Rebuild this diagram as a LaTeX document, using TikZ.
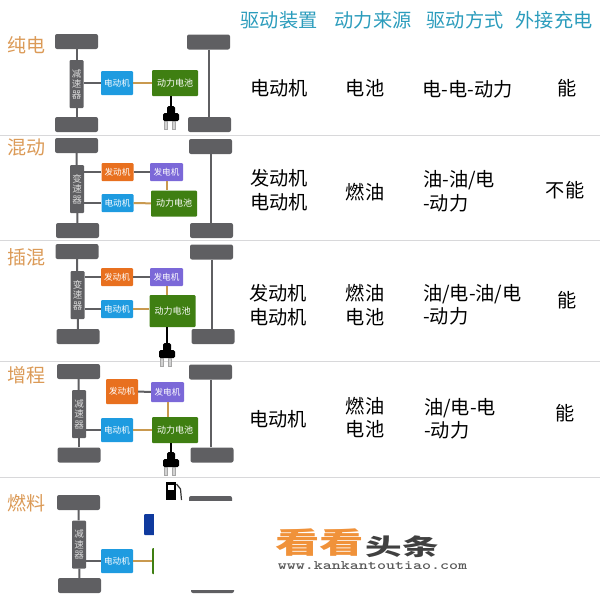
\documentclass[tikz,border=0pt]{standalone}
\usepackage{fontspec}
\setmainfont{Noto Sans CJK SC}
\setsansfont{Noto Sans CJK SC}
\definecolor{wheelgray}{HTML}{5F5F62}
\definecolor{motorblue}{HTML}{1E9BE0}
\definecolor{enginered}{HTML}{E8701F}
\definecolor{genpurple}{HTML}{7B68D8}
\definecolor{batgreen}{HTML}{3F7F12}
\definecolor{cellblue}{HTML}{0F3A9E}
\definecolor{linktan}{HTML}{C9994F}
\definecolor{headteal}{HTML}{2B9CBC}
\definecolor{nameorange}{HTML}{DB9A57}
\definecolor{rulegray}{HTML}{D8D8DA}
\definecolor{markorange}{HTML}{F0923A}
\tikzset{
wheel/.style={fill=wheelgray,rounded corners=2pt,minimum width=43pt,minimum height=15pt,inner sep=0pt},
gearbox/.style={fill=wheelgray,rounded corners=1pt,minimum width=14pt,minimum height=48pt,inner sep=0pt,text=white!85!black,font=\fontsize{9.5}{10.5}\selectfont,align=center},
unit/.style={rounded corners=1pt,inner sep=0pt,text=white,font=\fontsize{8.6}{10}\selectfont},
motor/.style={unit,fill=motorblue,minimum width=32pt,minimum height=24pt},
engine/.style={unit,fill=enginered,minimum width=32pt,minimum height=18pt},
generator/.style={unit,fill=genpurple,minimum width=33pt,minimum height=18pt},
battery/.style={unit,fill=batgreen,minimum width=46pt,minimum height=26pt,font=\fontsize{9}{10}\selectfont},
axle/.style={wheelgray,line width=2pt},
tan link/.style={linktan,line width=2pt},
cord/.style={black,line width=2pt},
cell/.style={font=\fontsize{19.2}{23.5}\selectfont,align=center,inner sep=0pt},
textcell/.style={cell,align=left,anchor=west},
head/.style={font=\fontsize{19.2}{22}\selectfont,text=headteal,inner sep=0pt},
rowname/.style={font=\fontsize{19}{22}\selectfont,text=nameorange,inner sep=0pt},
plug/.pic={
  \node[fill=black,rounded corners=1.5pt,minimum width=8pt,minimum height=8pt,inner sep=0pt] (head) at (0,4) {};
  \fill[black,rounded corners=1.5pt] (-8,7) rectangle (8,15);
  \fill[gray!35,draw=gray!70,line width=.4pt] (-6.5,15) rectangle (-4,23);
  \fill[gray!35,draw=gray!70,line width=.4pt] (1.5,15) rectangle (4,23);
}
}
\begin{document}
\begin{tikzpicture}[x=1pt,y=-1pt]
\useasboundingbox (0,0) rectangle (600,600);
%headers
  \node[head] (h1) at (279,20.5) {驱动装置};
  \node[head] (h2) at (373,20.5) {动力来源};
  \node[head] (h3) at (465,20.5) {驱动方式};
  \node[head] (h4) at (554,20.5) {外接充电};
%row rules
  \foreach \y in {135,240.5,361,477}
    \draw[rulegray,line width=1pt] (0,\y) -- (600,\y);
%1
  \node[rowname] (n1) at (27,45) {纯电};
  \node[wheel] (fl1) at (76.5,41.5) {};
  \node[wheel] (bl1) at (76.5,124.5) {};
  \node[wheel] (fr1) at (208.5,42) {};
  \node[wheel] (br1) at (209.5,124.5) {};
  \node[gearbox] (g1) at (76.5,84) {减\\速\\器};
  \node[motor] (m1) at (117,83) {电动机};
  \node[battery] (b1) at (175,83) {动力电池};
  \pic (p1) at (171,106) {plug};
  \draw[axle] (fl1) -- (g1);
  \draw[axle] (bl1) -- (g1);
  \draw[axle] (fr1) -- (fr1 |- br1.north);
  \draw[axle] (m1) -- (m1 -| g1.east);
  \draw[tan link] (m1) -- (b1);
  \draw[cord] (p1head |- b1.south) -- (p1head);
  \node[cell] (a11) at (279,88) {电动机};
  \node[cell] (a12) at (365,88.5) {电池};
  \node[cell] (a13) at (467.5,89.5) {电-电-动力};
  \node[cell] (a14) at (567,88) {能};
%2
  \node[rowname] (n2) at (27,147) {混动};
  \node[wheel] (fl2) at (76.5,145.5) {};
  \node[wheel] (bl2) at (77.5,230.5) {};
  \node[wheel] (fr2) at (210.5,146.5) {};
  \node[wheel] (br2) at (211.5,230.5) {};
  \node[gearbox] (g2) at (77,189) {变\\速\\器};
  \node[engine] (e2) at (117.5,172) {发动机};
  \node[generator] (d2) at (166.5,172) {发电机};
  \node[motor,minimum height=18pt] (m2) at (117.5,203) {电动机};
  \node[battery] (b2) at (174,203.5) {动力电池};
  \draw[axle] (fl2) -- (g2);
  \draw[axle] (bl2) -- (g2);
  \draw[axle] (fr2) -- (fr2 |- br2.north);
  \draw[axle] (e2) -- (e2 -| g2.east);
  \draw[axle] (m2) -- (m2 -| g2.east);
  \draw[axle] (e2) -- (d2);
  \draw[tan link] (m2) -- (b2);
  \draw[tan link] (d2) -- (d2 |- b2.north);
  \node[cell] (a21) at (279,190) {发动机\\电动机};
  \node[cell] (a22) at (365,192.5) {燃油};
  \node[textcell] (a23) at (423,191.5) {油-油/电\\-动力};
  \node[cell] (a24) at (565,190) {不能};
%3
  \node[rowname] (n3) at (27,257) {插混};
  \node[wheel] (fl3) at (77,251.5) {};
  \node[wheel] (bl3) at (78,336.5) {};
  \node[wheel] (fr3) at (211.5,252) {};
  \node[wheel] (br3) at (213,336.5) {};
  \node[gearbox] (g3) at (77.5,295) {变\\速\\器};
  \node[engine] (e3) at (117,277) {发动机};
  \node[generator] (d3) at (166.5,277) {发电机};
  \node[motor,minimum height=18pt] (m3) at (117,309) {电动机};
  \node[battery,minimum height=32pt] (b3) at (172.5,311) {动力电池};
  \pic (p3) at (167,343) {plug};
  \draw[axle] (fl3) -- (g3);
  \draw[axle] (bl3) -- (g3);
  \draw[axle] (fr3) -- (fr3 |- br3.north);
  \draw[axle] (e3) -- (e3 -| g3.east);
  \draw[axle] (m3) -- (m3 -| g3.east);
  \draw[axle] (e3) -- (d3);
  \draw[tan link] (m3) -- (m3 -| b3.west);
  \draw[tan link] (d3) -- (d3 |- b3.north);
  \draw[cord] (p3head |- b3.south) -- (p3head);
  \node[cell] (a31) at (278,305) {发动机\\电动机};
  \node[cell] (a32) at (365,305) {燃油\\电池};
  \node[textcell] (a33) at (423,305) {油/电-油/电\\-动力};
  \node[cell] (a34) at (567,300.5) {能};
%4
  \node[rowname] (n4) at (27,375) {增程};
  \node[wheel] (fl4) at (78.5,371.5) {};
  \node[wheel] (bl4) at (79,455) {};
  \node[wheel] (fr4) at (210.5,372) {};
  \node[wheel] (br4) at (212,455) {};
  \node[gearbox] (g4) at (79,414) {减\\速\\器};
  \node[engine,minimum height=25pt] (e4) at (122,391.5) {发动机};
  \node[generator,minimum height=20pt] (d4) at (167.5,392) {发电机};
  \node[motor] (m4) at (117,430) {电动机};
  \node[battery] (b4) at (175,430) {动力电池};
  \pic (p4) at (171,452) {plug};
  \draw[axle] (fl4) -- (g4);
  \draw[axle] (bl4) -- (g4);
  \draw[axle] (fr4) -- (fr4 |- br4.north);
  \draw[axle] (m4) -- (m4 -| g4.east);
  \draw[axle] (e4) -- (d4);
  \draw[tan link] (m4) -- (b4);
  \draw[tan link] (d4) -- (d4 |- b4.north);
  \draw[cord] (p4head |- b4.south) -- (p4head);
  \node[cell] (a41) at (278,419.5) {电动机};
  \node[cell] (a42) at (365,417.5) {燃油\\电池};
  \node[textcell] (a43) at (424,419) {油/电-电\\-动力};
  \node[cell] (a44) at (565,413) {能};
%5
  \node[rowname] (n5) at (27,503) {燃料};
  \node[wheel] (fl5) at (78.5,502.5) {};
  \node[wheel] (bl5) at (79.5,585.5) {};
  \node[wheel] (fr5) at (210.5,503.5) {};
  \node[wheel] (br5) at (212.5,585.5) {};
  \node[gearbox] (g5) at (79,544.5) {减\\速\\器};
  \node[motor] (m5) at (117,561) {电动机};
  \node[battery] (b5) at (175,561) {};
  \node[unit,fill=cellblue,minimum width=46pt,minimum height=21pt] (c5) at (167,524.5) {};
  \draw[axle] (fl5) -- (g5);
  \draw[axle] (bl5) -- (g5);
  \draw[axle] (m5) -- (m5 -| g5.east);
  \draw[tan link] (m5) -- (b5);
  %pump
  \fill[black] (165.5,482) rectangle (176,500);
  \fill[white] (168,484.5) rectangle (173.5,490);
  \draw[black!80,line width=1.2pt] (176.5,484) -- (180.5,489) -- (181.5,500);
  %white cover
  \fill[white] (154,501) rectangle (245,590);
%mark
  \node[inner sep=0pt,transform shape,xscale=1.53,font=\bfseries\fontsize{29}{30}\selectfont,text=markorange] (k1) at (319.5,542.5) {看看};
  \node[inner sep=0pt,transform shape,xscale=1.59,font=\bfseries\fontsize{23}{24}\selectfont,text=black!75] (k2) at (402.5,546.5) {头条};
  \node[inner sep=0pt,transform shape,xscale=1.32,font=\fontsize{13}{14}\selectfont\ttfamily\bfseries,text=black!65] (k3) at (372.5,566) {www.kankantoutiao.com};
\end{tikzpicture}
\end{document}
